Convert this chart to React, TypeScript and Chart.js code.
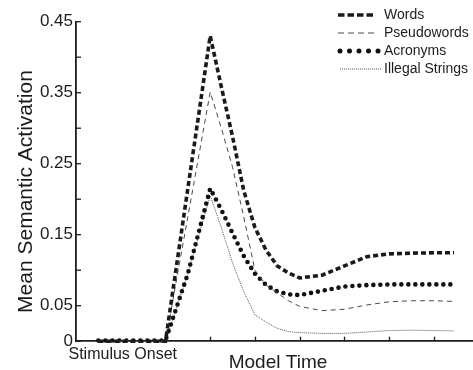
import React, { useEffect, useRef } from 'react';
import { Chart, registerables } from 'chart.js';

Chart.register(...registerables);

// Model time in tick units (0 = stimulus onset, ticks at 1..6)
const timePoints = [-1.5, 0, 0.5, 0.75, 1, 1.25, 1.5, 1.75, 2, 2.25, 2.5, 2.75, 3, 3.5, 4, 4.5, 5, 5.5, 6, 6.45];

const wordsValues = [0, 0, 0.215, 0.322, 0.43, 0.358, 0.288, 0.212, 0.16, 0.128, 0.106, 0.096, 0.089, 0.093, 0.106, 0.119, 0.123, 0.124, 0.1245, 0.1245];
const pseudowordsValues = [0, 0, 0.175, 0.263, 0.351, 0.3, 0.245, 0.175, 0.1, 0.079, 0.068, 0.057, 0.049, 0.043, 0.045, 0.051, 0.0555, 0.057, 0.057, 0.056];
const acronymsValues = [0.001, 0.001, 0.095, 0.155, 0.215, 0.185, 0.152, 0.12, 0.095, 0.079, 0.07, 0.066, 0.065, 0.071, 0.077, 0.079, 0.08, 0.08, 0.08, 0.08];
const illegalValues = [0, 0, 0.095, 0.15, 0.205, 0.16, 0.11, 0.07, 0.037, 0.027, 0.018, 0.0135, 0.012, 0.011, 0.011, 0.013, 0.015, 0.0155, 0.015, 0.0145];

const seriesNames = ['Words', 'Pseudowords', 'Acronyms', 'Illegal Strings'];

const yTickValues = [0, 0.05, 0.1, 0.15, 0.2, 0.25, 0.3, 0.35, 0.4, 0.45];
const yTickLabels = ['0', '0.05', '', '0.15', '', '0.25', '', '0.35', '', '0.45'];
const xTickValues = [1, 2, 3, 4, 5, 6];
const xOnsetValue = -1;
const xOnsetLabel = 'Stimulus Onset';
const xTitle = 'Model Time';
const yTitle = 'Mean Semantic Activation';

const FONT = '"Liberation Sans", Arial, Helvetica, sans-serif';
const INK = '#1c1c1c';

const toPoints = (vals: number[]) => vals.map((v, i) => ({ x: timePoints[i], y: v }));

const styles = [
  { borderColor: '#1a1a1a', borderWidth: 3.6, borderDash: [5, 3], borderCapStyle: 'butt' as CanvasLineCap },
  { borderColor: '#4a4a4a', borderWidth: 1, borderDash: [5, 4], borderCapStyle: 'butt' as CanvasLineCap },
  { borderColor: '#111111', borderWidth: 4.6, borderDash: [0, 7], borderCapStyle: 'round' as CanvasLineCap },
  { borderColor: '#555555', borderWidth: 1, borderDash: [1, 1], borderCapStyle: 'butt' as CanvasLineCap },
];

const legendSamples = [
  { dash: [6.5, 3], width: 3.6, cap: 'butt' as CanvasLineCap, color: '#1a1a1a', x0: 338, x1: 376 },
  { dash: [6, 4], width: 1, cap: 'butt' as CanvasLineCap, color: '#4a4a4a', x0: 338, x1: 378 },
  { dash: [0, 9.5], width: 5, cap: 'round' as CanvasLineCap, color: '#111111', x0: 340, x1: 380 },
  { dash: [1, 1], width: 1, cap: 'butt' as CanvasLineCap, color: '#555555', x0: 340, x1: 382 },
];
const legendRowY = [15, 33, 51, 69];

const decorPlugin = {
  id: 'decor',
  afterDraw(chart: any) {
    const ctx: CanvasRenderingContext2D = chart.ctx;
    const xs = chart.scales.x;
    const ys = chart.scales.y;
    const area = chart.chartArea;
    ctx.save();
    // inward tick marks
    ctx.strokeStyle = INK;
    ctx.lineWidth = 1.3;
    ctx.setLineDash([]);
    xTickValues.forEach((v) => {
      const px = Math.round(xs.getPixelForValue(v)) + 0.5;
      ctx.beginPath();
      ctx.moveTo(px, area.bottom);
      ctx.lineTo(px, area.bottom - 4.5);
      ctx.stroke();
    });
    yTickValues.forEach((v) => {
      const py = ys.getPixelForValue(v);
      ctx.beginPath();
      ctx.moveTo(area.left, py);
      ctx.lineTo(area.left + 5, py);
      ctx.stroke();
    });
    // texts
    ctx.fillStyle = INK;
    ctx.textAlign = 'center';
    ctx.textBaseline = 'alphabetic';
    ctx.font = `16px ${FONT}`;
    ctx.fillText(xOnsetLabel, xs.getPixelForValue(xOnsetValue) + 2, 359);
    ctx.font = `19px ${FONT}`;
    ctx.fillText(xTitle, 278, 368);
    ctx.save();
    ctx.translate(31.5, 191.5);
    ctx.rotate(-Math.PI / 2);
    ctx.font = `21px ${FONT}`;
    ctx.fillText(yTitle, 0, 0);
    ctx.restore();
    // legend
    ctx.textAlign = 'left';
    ctx.textBaseline = 'middle';
    ctx.font = `14px ${FONT}`;
    seriesNames.forEach((name, i) => {
      const s = legendSamples[i];
      const y = legendRowY[i];
      ctx.save();
      ctx.strokeStyle = s.color;
      ctx.lineWidth = s.width;
      ctx.lineCap = s.cap;
      ctx.setLineDash(s.dash);
      ctx.beginPath();
      ctx.moveTo(s.x0, y);
      ctx.lineTo(s.x1, y);
      ctx.stroke();
      ctx.restore();
      ctx.fillStyle = INK;
      ctx.fillText(name, 384, y + 0.5);
    });
    ctx.restore();
  },
};

export default function App() {
  const canvasRef = useRef<HTMLCanvasElement | null>(null);

  useEffect(() => {
    document.body.style.margin = '0';
    const canvas = canvasRef.current;
    if (!canvas) return;
    const allValues = [wordsValues, pseudowordsValues, acronymsValues, illegalValues];
    const chart = new Chart(canvas, {
      type: 'line',
      data: {
        datasets: allValues.map((vals, i) => ({
          label: seriesNames[i],
          data: toPoints(vals),
          borderColor: styles[i].borderColor,
          borderWidth: styles[i].borderWidth,
          borderDash: styles[i].borderDash,
          borderCapStyle: styles[i].borderCapStyle,
          borderJoinStyle: 'miter',
          pointRadius: 0,
          tension: 0,
          fill: false,
          clip: false,
        })),
      },
      options: {
        animation: false,
        responsive: false,
        devicePixelRatio: 1,
        layout: { padding: { top: 21.7, left: 0, right: 0, bottom: 0 } },
        plugins: { legend: { display: false }, tooltip: { enabled: false } },
        scales: {
          x: {
            type: 'linear',
            min: -2,
            max: 6.875,
            grid: { display: false, drawTicks: false },
            border: { display: true, color: INK, width: 1.8 },
            ticks: { display: false },
            afterFit: (scale: any) => {
              scale.height = 28.8;
            },
          },
          y: {
            type: 'linear',
            min: 0,
            max: 0.45,
            grid: { display: false, drawTicks: false },
            border: { display: true, color: INK, width: 1.8 },
            afterBuildTicks: (scale: any) => {
              scale.ticks = yTickValues.map((v) => ({ value: v }));
            },
            ticks: {
              padding: 3,
              color: INK,
              font: { family: FONT, size: 17 },
              callback: (_v: any, idx: number) => yTickLabels[idx],
            },
            afterFit: (scale: any) => {
              scale.width = 76;
            },
          },
        },
      },
      plugins: [decorPlugin],
    });
    return () => chart.destroy();
  }, []);

  return (
    <div style={{ position: 'relative', width: 473, height: 370 }}>
      <canvas ref={canvasRef} width={473} height={370} style={{ position: 'absolute', left: 0, top: 0 }} />
    </div>
  );
}
